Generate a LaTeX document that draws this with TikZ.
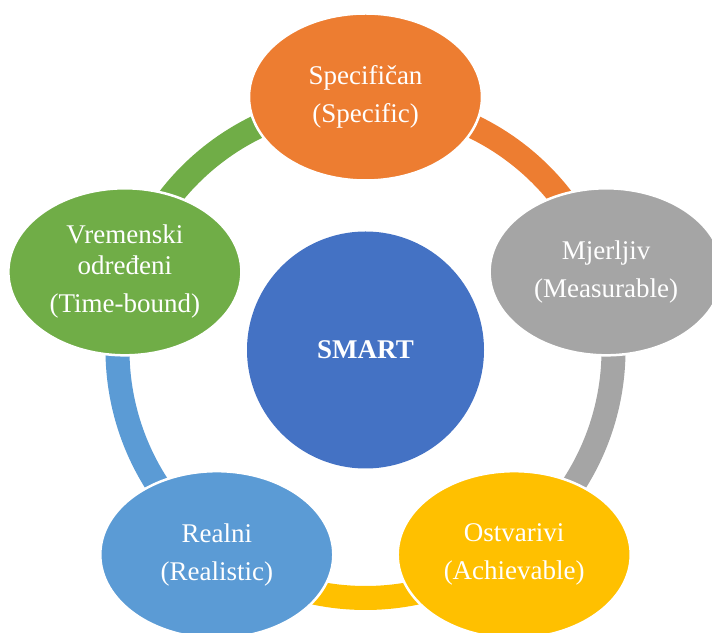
\documentclass[tikz,border=0pt]{standalone}
\usepackage{fontspec}
\setmainfont{Liberation Serif}
\usetikzlibrary{calc,shapes.geometric}

\definecolor{specorange}{HTML}{ED7D31}
\definecolor{measgray}{HTML}{A5A5A5}
\definecolor{achyellow}{HTML}{FFC000}
\definecolor{realblue}{HTML}{5B9BD5}
\definecolor{timegreen}{HTML}{70AD47}
\definecolor{smartblue}{HTML}{4472C4}

\begin{document}
\begin{tikzpicture}[x=1pt,y=1pt]

      \clip (0,0) rectangle (712,632);

      \node[circle, fill=smartblue, minimum size=237, inner sep=0, text=white,
            font=\fontsize{27}{31}\selectfont\bfseries] (smart) at (365.5,282) {SMART};

      % ring between the goals
      \begin{scope}[line width=24]
        \draw[specorange] (smart.center) ++(90:248)   arc[start angle=90,   end angle=18,   radius=248];
        \draw[measgray]   (smart.center) ++(18:248)   arc[start angle=18,   end angle=-54,  radius=248];
        \draw[achyellow]  (smart.center) ++(-54:248)  arc[start angle=-54,  end angle=-126, radius=248];
        \draw[realblue]   (smart.center) ++(-126:248) arc[start angle=-126, end angle=-198, radius=248];
        \draw[timegreen]  (smart.center) ++(162:248)  arc[start angle=162,  end angle=90,   radius=248];
      \end{scope}

      \begin{scope}[every node/.style={ellipse,draw=white,line width=2.5,minimum width=233,
                    minimum height=167,inner sep=0,text=white,align=center,
                    font=\fontsize{27}{31}\selectfont}]
        \node[fill=specorange] (spec) at ($(smart)+(90:253)$)   {Specifičan\\[7pt](Specific)};
        \node[fill=measgray]   (meas) at ($(smart)+(18:253)$)   {Mjerljiv\\[7pt](Measurable)};
        \node[fill=achyellow]  (ach)  at ($(smart)+(-54:253)$)  {Ostvarivi\\[7pt](Achievable)};
        \node[fill=realblue]   (real) at ($(smart)+(-126:253)$) {Realni\\[7pt](Realistic)};
        \node[fill=timegreen]  (time) at ($(smart)+(162:253)$)  {Vremenski\\određeni\\[7pt](Time-bound)};
      \end{scope}

\end{tikzpicture}
\end{document}
